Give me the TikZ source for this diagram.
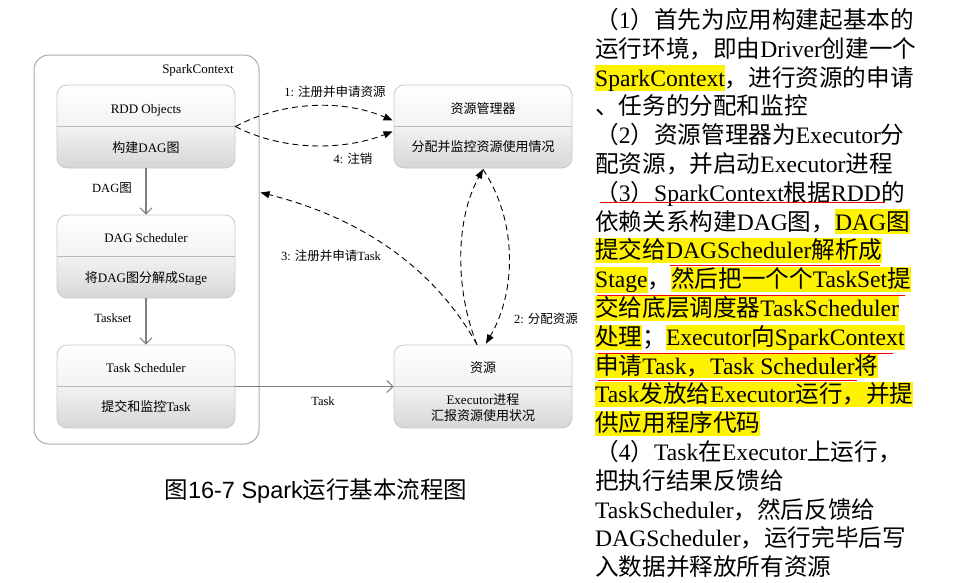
\documentclass[tikz,border=0pt]{standalone}
\usepackage{fontspec}
\setmainfont{Liberation Serif}
\setsansfont{Liberation Sans}
\newfontfamily\zh{Noto Sans CJK SC}
\usetikzlibrary{arrows.meta, positioning, calc}
\definecolor{hlyellow}{HTML}{FFF200}
\definecolor{boxedge}{HTML}{C8C8C8}
\newcommand{\hl}[1]{{\setlength{\fboxsep}{0pt}\colorbox{hlyellow}{\rule[-0.18em]{0pt}{1.06em}#1}}}

\begin{document}
\begin{tikzpicture}[x=1pt, y=-1pt,
    ctxbox/.style={draw=gray!65, line width=1pt, rounded corners=15pt, inner sep=0pt},
    stage/.style={draw=boxedge, line width=0.8pt, rounded corners=10pt,
                  top color=white, bottom color=gray!32, middle color=gray!10,
                  minimum width=178pt, minimum height=83pt, inner sep=0pt},
    divider/.style={draw=gray!55, line width=0.8pt},
    boxtext/.style={font=\fontsize{13}{15}\selectfont, text height=9.5pt, text depth=0pt, inner sep=0pt},
    lbl/.style={font=\fontsize{12.5}{14}\selectfont, text height=9pt, text depth=0pt, inner sep=0pt},
    flow/.style={draw=gray, line width=1.1pt, -{Straight Barb[length=6pt, width=12pt]}},
    msg/.style={draw=black, line width=0.9pt, dash pattern=on 6pt off 4pt,
                -{Triangle[length=9pt, width=7pt]}},
    para/.style={font=\fontsize{23.6}{28.8}\selectfont, anchor=base west, inner sep=0pt},
    redmark/.style={draw=red, line width=0.8pt},
]
    \useasboundingbox (0,0) rectangle (954,582);

    % SparkContext frame
    \node[ctxbox, minimum width=225pt, minimum height=389pt] (ctx) at (146.5,249.5) {};
    \node[boxtext] (ctxlbl) at (198,69) {SparkContext};

    % RDD Objects
    \node[stage] (rdd) at (146,126.5) {};
    \draw[divider] (rdd.west) -- (rdd.east);
    \node[boxtext] (rddtop) at (146,108.5) {RDD Objects};
    \node[boxtext] (rddbot) at (146,147.5) {{\zh 构建}DAG{\zh 图}};

    % DAG Scheduler
    \node[stage] (dag) at (146,256.5) {};
    \draw[divider] (dag.west) -- (dag.east);
    \node[boxtext] (dagtop) at (146,237.5) {DAG Scheduler};
    \node[boxtext] (dagbot) at (146,277.5) {{\zh 将}DAG{\zh 图分解成}Stage};

    % Task Scheduler
    \node[stage] (ts) at (146,386.5) {};
    \draw[divider] (ts.west) -- (ts.east);
    \node[boxtext] (tstop) at (146,368) {Task Scheduler};
    \node[boxtext] (tsbot) at (146,407) {{\zh 提交和监控}Task};

    % Resource manager
    \node[stage] (rm) at (483,126.5) {};
    \draw[divider] (rm.west) -- (rm.east);
    \node[boxtext] (rmtop) at (483,109) {{\zh 资源管理器}};
    \node[boxtext] (rmbot) at (483,147) {{\zh 分配并监控资源使用情况}};

    % Resource / Executor
    \node[stage] (res) at (483,386.5) {};
    \draw[divider] (res.west) -- (res.east);
    \node[boxtext] (restop) at (483,368) {{\zh 资源}};
    \node[boxtext] (resmid) at (483,400) {Executor{\zh 进程}};
    \node[boxtext] (resbot) at (483,416) {{\zh 汇报资源使用状况}};

    % solid flow
    \draw[flow] (rdd.south) -- (dag.north);
    \draw[flow] (dag.south) -- (ts.north);
    \draw[flow] (ts.east) -- (res.west);
    \node[lbl] (ldag) at (112,188) {DAG{\zh 图}};
    \node[lbl] (lset) at (113,318) {Taskset};
    \node[lbl] (ltask) at (323,401) {Task};

    % dashed messages
    \draw[msg] (rdd.east) .. controls (285,100) and (345,100) .. ($(rm.west)+(-1,-6)$);
    \draw[msg] (rdd.east) .. controls (285,152) and (345,150) .. ($(rm.west)+(-1,5)$);
    \draw[msg] ($(res.north)+(-6,0)$) .. controls (430,260) and (350,215) .. ($(ctx.east)+(1,-57)$);
    \draw[msg] ($(res.north)+(-6,0)$) .. controls (455,290) and (455,220) .. ($(rm.south)+(0,1)$);
    \draw[msg] ($(rm.south)+(0,1)$) .. controls (517,220) and (517,290) .. ($(res.north)+(3,-1)$);
    \node[lbl] (l1) at (335,92) {1: {\zh 注册并申请资源}};
    \node[lbl] (l4) at (353,159) {4: {\zh 注销}};
    \node[lbl] (l3) at (331,256) {3: {\zh 注册并申请}Task};
    \node[lbl] (l2) at (546,319) {2: {\zh 分配资源}};

    % caption
    \node[font=\fontsize{23.5}{28}\selectfont, text height=17pt, text depth=0pt, inner sep=0pt] (cap) at (316,490)
        {{\zh 图}{\sffamily 16-7 Spark}{\zh 运行基本流程图}};

    % explanation text
    \node[para] (p1) at (595,28.5) {{\zh （}1{\zh ）首先为应用构建起基本的}};
    \node[para] (p2) at (595,57.3) {{\zh 运行环境，即由}Driver{\zh 创建一个}};
    \node[para] (p3) at (595,86.1) {\hl{SparkContext}{\zh ，进行资源的申请}};
    \node[para] (p4) at (595,114.9) {{\zh 、任务的分配和监控}};
    \node[para] (p5) at (595,143.7) {{\zh （}2{\zh ）资源管理器为}Executor{\zh 分}};
    \node[para] (p6) at (595,172.5) {{\zh 配资源，并启动}Executor{\zh 进程}};
    \node[para] (p7) at (595,201.3) {{\zh （}3{\zh ）}SparkContext{\zh 根据}RDD{\zh 的}};
    \node[para] (p8) at (595,230.1) {{\zh 依赖关系构建}DAG{\zh 图，}\hl{DAG{\zh 图}}};
    \node[para] (p9) at (595,258.9) {\hl{{\zh 提交给}DAGScheduler{\zh 解析成}}};
    \node[para] (p10) at (595,287.7) {\hl{Stage}{\zh ，}\hl{{\zh 然后把一个个}TaskSet{\zh 提}}};
    \node[para] (p11) at (595,316.5) {\hl{{\zh 交给底层调度器}TaskScheduler}};
    \node[para] (p12) at (595,345.3) {\hl{{\zh 处理}}{\zh ；}\hl{Executor{\zh 向}SparkContext}};
    \node[para] (p13) at (595,374.1) {\hl{{\zh 申请}Task{\zh ，}Task Scheduler{\zh 将}}};
    \node[para] (p14) at (595,402.9) {\hl{Task{\zh 发放给}Executor{\zh 运行，并提}}};
    \node[para] (p15) at (595,431.7) {\hl{{\zh 供应用程序代码}}};
    \node[para] (p16) at (595,460.5) {{\zh （}4{\zh ）}Task{\zh 在}Executor{\zh 上运行，}};
    \node[para] (p17) at (595,489.3) {{\zh 把执行结果反馈给}};
    \node[para] (p18) at (595,518.1) {TaskScheduler{\zh ，然后反馈给}};
    \node[para] (p19) at (595,546.9) {DAGScheduler{\zh ，运行完毕后写}};
    \node[para] (p20) at (595,575.7) {{\zh 入数据并释放所有资源}};

    % red marks
    \draw[redmark] ($(p7.base west)+(5,1)$) -- ++(285,0);
    \draw[redmark] ($(p9.base west)+(75,6)$) -- ++(210,0);
    \draw[redmark] ($(p10.base west)+(2,8)$) -- ++(308,0);
    \draw[redmark] ($(p12.base west)+(3,8)$) -- ++(295,0);
    \draw[redmark] ($(p13.base west)+(3,6)$) -- ++(259,0);
\end{tikzpicture}
\end{document}
